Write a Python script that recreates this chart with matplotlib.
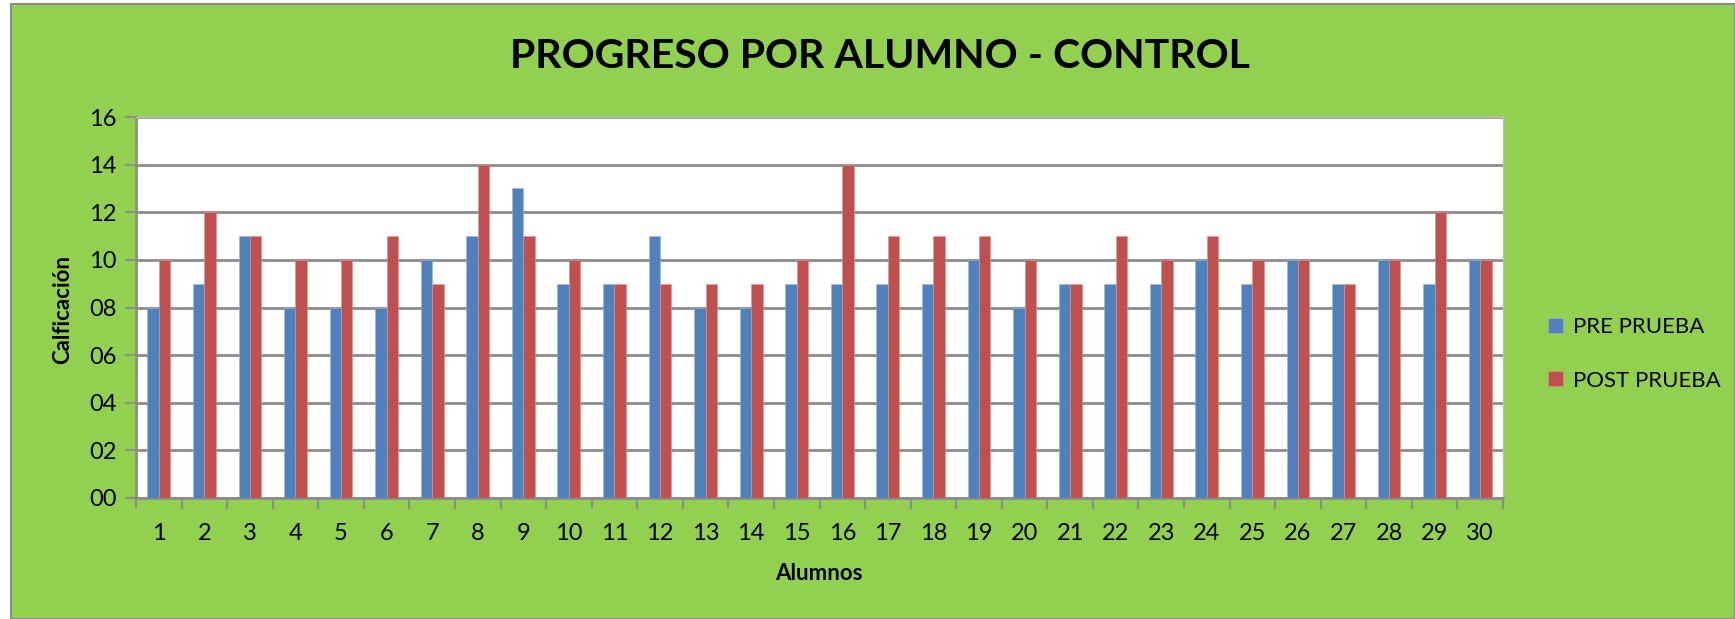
import matplotlib
matplotlib.use("Agg")
import matplotlib.pyplot as plt
import numpy as np
from matplotlib.patches import Rectangle

alumnos = [str(i) for i in range(1, 31)]
pre_prueba = [8, 9, 11, 8, 8, 8, 10, 11, 13, 9, 9, 11, 8, 8, 9, 9, 9, 9, 10, 8, 9, 9, 9, 10, 9, 10, 9, 10, 9, 10]
post_prueba = [10, 12, 11, 10, 10, 11, 9, 14, 11, 10, 9, 9, 9, 9, 10, 14, 11, 11, 11, 10, 9, 11, 10, 11, 10, 10, 9, 10, 12, 10]
y_ticks = [0, 2, 4, 6, 8, 10, 12, 14, 16]
y_labels = ["00", "02", "04", "06", "08", "10", "12", "14", "16"]

GREEN = "#92D050"
BLUE = "#4F81BD"
RED = "#C0504D"
GRID = "#8C8C8C"
FONT = ["Lato", "DejaVu Sans"]

W, H = 1735, 619
fig = plt.figure(figsize=(W / 100, H / 100), dpi=100)
fig.patch.set_facecolor("white")
# chart area background with border
bg = Rectangle((11 / W, 0), 1 - 11 / W, 1 - 4 / H, transform=fig.transFigure,
               facecolor=GREEN, edgecolor="#8C8C8C", linewidth=1.5, zorder=-10)
fig.patches.append(bg)

ax = fig.add_axes([136 / W, 1 - 498 / H, (1503 - 136) / W, (498 - 117) / H])
ax.set_facecolor("white")

x = np.arange(len(alumnos))
bw = 0.25
ax.bar(x - bw / 2, pre_prueba, width=bw, color=BLUE, label="PRE PRUEBA", zorder=3,
       edgecolor="#9DB4D6", linewidth=0.4)
ax.bar(x + bw / 2, post_prueba, width=bw, color=RED, label="POST PRUEBA", zorder=3,
       edgecolor="#D99795", linewidth=0.4)

ax.set_xlim(-0.5, len(alumnos) - 0.5)
ax.set_ylim(0, 16)
ax.set_yticks(y_ticks)
ax.set_yticklabels(y_labels, fontsize=17, family=FONT)
ax.set_xticks(x)
ax.set_xticklabels(alumnos, fontsize=17, family=FONT)
ax.tick_params(axis="x", length=0, pad=18)
ax.set_xticks(np.arange(-0.5, len(alumnos), 1), minor=True)
ax.tick_params(axis="x", which="minor", length=8, color=GRID, width=1.5)
ax.tick_params(axis="y", length=8, color=GRID, width=1.5, pad=6)

ax.yaxis.grid(True, color=GRID, linewidth=2, zorder=0)
ax.set_axisbelow(True)
for s in ["top", "right"]:
    ax.spines[s].set_color("#BFBFBF")
    ax.spines[s].set_linewidth(1)
for s in ["left", "bottom"]:
    ax.spines[s].set_color(GRID)
    ax.spines[s].set_linewidth(2)

fig.text(819 / W, 1 - 573 / H, "Alumnos", ha="center", va="center",
         fontsize=16, fontweight="bold", family=FONT)
fig.text(63 / W, 1 - 310 / H, "Calficación", ha="center", va="center", rotation=90,
         fontsize=16, fontweight="bold", family=FONT)

fig.text(880 / W, 1 - 56 / H, "PROGRESO POR ALUMNO - CONTROL", ha="center", va="center",
         fontsize=29.5, fontweight="bold", family=FONT)

leg = fig.legend(*ax.get_legend_handles_labels(), loc="center left",
                 bbox_to_anchor=(1537 / W, 1 - 354 / H), frameon=False,
                 prop={"family": FONT, "size": 16}, handlelength=0.65, handleheight=0.65,
                 labelspacing=1.5, handletextpad=0.45, borderpad=0)

fig.savefig("out.png", dpi=100, facecolor=fig.get_facecolor())
